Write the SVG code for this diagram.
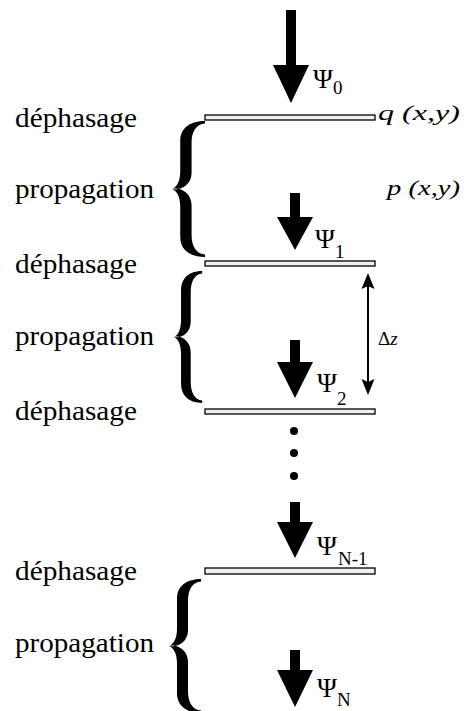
<svg xmlns="http://www.w3.org/2000/svg" width="464" height="711" viewBox="0 0 464 711">
<style>
text{font-family:'Liberation Serif','Times New Roman',Tinos,'DejaVu Serif',serif;fill:#000}
.lbl{font-size:27px}
.psi{font-size:27px}
.sub{font-size:19px}
.it{font-style:italic;font-size:21px}
.dz{font-size:19px}
.plate{fill:#f0f0f0;stroke:#000;stroke-width:1.3}
.big{fill:#000}
.brace{fill:#000}
</style>
<defs>
<path id="brace" d="M32,0 C19,0 8,6 8,20 L8,50 C8,60 5,66 0,68 C8,70 19,64 19,52 L19,22 C19,10 24,3 32,2.5 Z M32,136 C19,136 8,130 8,116 L8,86 C8,76 5,70 0,68 C8,66 19,72 19,84 L19,114 C19,126 24,133 32,133.5 Z"/>
</defs>
<rect width="464" height="711" fill="#fff"/>

<g id="labels-left">
<text class="lbl" x="15" y="127" textLength="122" lengthAdjust="spacingAndGlyphs">déphasage</text>
<text class="lbl" x="15" y="198" textLength="139" lengthAdjust="spacingAndGlyphs">propagation</text>
<text class="lbl" x="15" y="273" textLength="122" lengthAdjust="spacingAndGlyphs">déphasage</text>
<text class="lbl" x="15" y="345" textLength="139" lengthAdjust="spacingAndGlyphs">propagation</text>
<text class="lbl" x="15" y="420" textLength="122" lengthAdjust="spacingAndGlyphs">déphasage</text>
<text class="lbl" x="15" y="580" textLength="122" lengthAdjust="spacingAndGlyphs">déphasage</text>
<text class="lbl" x="15" y="652" textLength="139" lengthAdjust="spacingAndGlyphs">propagation</text>
</g>

<g id="braces">
<use href="#brace" class="brace" transform="translate(172,121) scale(1.03,1)"/>
<use href="#brace" class="brace" transform="translate(174,271) scale(0.88,0.97)"/>
<use href="#brace" class="brace" transform="translate(169,579) scale(1,0.985)"/>
</g>

<g id="plates">
<rect id="plate1" class="plate" x="205" y="115" width="170" height="5"/>
<rect id="plate2" class="plate" x="205" y="261" width="170" height="5"/>
<rect id="plate3" class="plate" x="205" y="409" width="170" height="5"/>
<rect id="plate4" class="plate" x="205" y="568" width="170" height="6"/>
</g>

<g id="connectors">
<polygon class="big" points="286,10 296,10 296,65 309,65 291,103 273,65 286,65"/>
<polygon class="big" points="290,193 300,193 300,217 313,217 295,250 277,217 290,217"/>
<polygon class="big" points="290,340 300,340 300,362 313,362 295,398 277,362 290,362"/>
<polygon class="big" points="290,502 300,502 300,522 313,522 295,558 277,522 290,522"/>
<polygon class="big" points="290,650 300,650 300,670 313,670 295,707 277,670 290,670"/>
<g id="dz-arrow">
<line x1="368" y1="285" x2="368" y2="383" stroke="#000" stroke-width="2"/>
<polygon class="big" points="368,273 374.5,289 368,286 361.5,289"/>
<polygon class="big" points="368,395 374.5,379 368,382 361.5,379"/>
</g>
</g>

<g id="dots">
<circle cx="294" cy="431" r="4"/>
<circle cx="294" cy="453" r="4"/>
<circle cx="294" cy="476" r="4"/>
</g>

<g id="psi-labels">
<text class="psi" x="313" y="88">Ψ<tspan class="sub" x="333" y="94">0</tspan></text>
<text class="psi" x="315" y="248">Ψ<tspan class="sub" x="335" y="258">1</tspan></text>
<text class="psi" x="317" y="392">Ψ<tspan class="sub" x="337" y="405">2</tspan></text>
<text class="psi" x="317" y="555">Ψ<tspan class="sub" x="338" y="565">N-1</tspan></text>
<text class="psi" x="317" y="697">Ψ<tspan class="sub" x="337" y="706">N</tspan></text>
</g>

<g id="right-labels">
<text class="it" x="378" y="120" textLength="82" lengthAdjust="spacingAndGlyphs">q (x,y)</text>
<text class="it" x="387" y="195" textLength="73" lengthAdjust="spacingAndGlyphs">p (x,y)</text>
<text class="dz" x="378" y="345">Δ<tspan font-style="italic">z</tspan></text>
</g>
</svg>
